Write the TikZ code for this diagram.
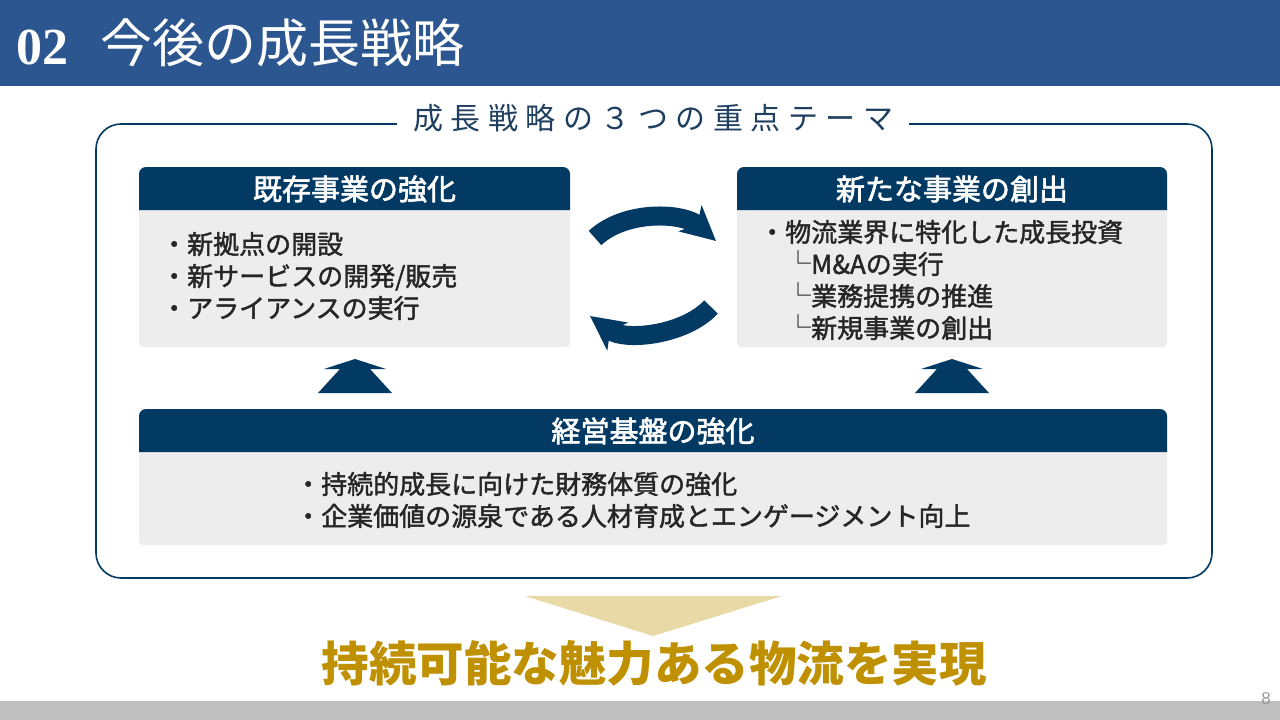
\documentclass[tikz,border=0pt]{standalone}
\usepackage{fontspec}
\setmainfont{Noto Sans CJK JP}
\newfontfamily\jpreg{Noto Sans CJK JP}
\newfontfamily\jpmed{Noto Sans CJK JP}[FakeBold=1.6]
\newfontfamily\jphdr{Noto Sans CJK JP}[FakeBold=2.2]
\newfontfamily\serifnum{Liberation Serif}
\newfontfamily\pagefont{Liberation Sans}
\usetikzlibrary{arrows.meta}
\definecolor{band}{HTML}{2B5690}
\definecolor{navy}{HTML}{033A63}
\definecolor{cardgrey}{HTML}{EDEDED}
\definecolor{bodytext}{HTML}{262626}
\definecolor{titletext}{HTML}{1F3F60}
\definecolor{gold}{HTML}{BF9000}
\definecolor{lightgold}{HTML}{E9D9A6}
\definecolor{footgrey}{HTML}{BFBFBF}
\tikzset{
  hdrtext/.style={text=white, font=\jphdr\fontsize{29}{34}\selectfont, inner sep=0pt},
  bodylines/.style={text=bodytext, font=\jpmed\fontsize{26}{32}\selectfont, align=left, inner sep=0pt, anchor=west},
  cyclearrow/.style={navy, line width=19pt, -{Stealth[length=34pt, width=34pt, inset=9pt]}},
  upchevron/.style={fill=navy},
}
\newcommand{\subl}{{\jpreg └}}
\begin{document}
\begin{tikzpicture}[x=1pt,y=-1pt]
\useasboundingbox (0,0) rectangle (1280,720);
\fill[white] (0,0) rectangle (1280,720);
% title band
\fill[band] (0,0) rectangle (1280,86);
\node[anchor=base west, text=white, inner sep=0pt, font=\serifnum\bfseries\fontsize{52}{60}\selectfont] (num) at (16,64) {02};
\node[anchor=base west, text=white, inner sep=0pt, font=\jpreg\fontsize{52}{60}\selectfont] (ttl) at (100,62) {今後の成長戦略};
% outer frame
\draw[navy, line width=1.6pt, rounded corners=25pt] (96,124) rectangle (1212,578);
\node[fill=white, inner xsep=16pt, inner ysep=2pt, text=titletext, font=\jpreg\addfontfeature{LetterSpace=25}\fontsize{30}{34}\selectfont] (theme) at (653,118) {成長戦略の３つの重点テーマ};
% left card
\fill[cardgrey, rounded corners=4pt] (139,200) rectangle (570,347);
\fill[navy] (139,210) [rounded corners=7pt] -- (139,167) -- (570,167) [sharp corners] -- (570,210) -- cycle;
\node[hdrtext] (h1) at (354.5,189) {既存事業の強化};
\node[bodylines] (b1) at (161,276) {・新拠点の開設\\・新サービスの開発/販売\\・アライアンスの実行};
% right card
\fill[cardgrey, rounded corners=4pt] (737,200) rectangle (1167,347);
\fill[navy] (737,210) [rounded corners=7pt] -- (737,167) -- (1167,167) [sharp corners] -- (1167,210) -- cycle;
\node[hdrtext] (h2) at (952,189) {新たな事業の創出};
\node[bodylines] (b2) at (759,280) {・物流業界に特化した成長投資\\　\subl M\&Aの実行\\　\subl 業務提携の推進\\　\subl 新規事業の創出};
% bottom card
\fill[cardgrey, rounded corners=4pt] (139,440) rectangle (1167,545);
\fill[navy] (139,452) [rounded corners=7pt] -- (139,409) -- (1167,409) [sharp corners] -- (1167,452) -- cycle;
\node[hdrtext] (h3) at (653,431) {経営基盤の強化};
\node[bodylines] (b3) at (295,500) {・持続的成長に向けた財務体質の強化\\・企業価値の源泉である人材育成とエンゲージメント向上};
% cycle arrows
\coordinate (a1s) at (595,238);
\coordinate (a1e) at (716,241);
\coordinate (a2s) at (711,307);
\coordinate (a2e) at (590,316);
\draw[cyclearrow] (a1s) .. controls (625,210) and (683,212) .. (a1e);
\draw[cyclearrow] (a2s) .. controls (685,335) and (625,342) .. (a2e);
% up chevrons
\foreach \cx/\nm in {355/upL, 952/upR}{
  \fill[upchevron] (\cx,359) -- (\cx+31,369) -- (\cx+15,369) -- (\cx+37,393) -- (\cx-37,393) -- (\cx-15,369) -- (\cx-31,369) -- cycle;
}
% result
\fill[lightgold] (525,596) -- (782,596) -- (653,636) -- cycle;
\node[text=gold, inner sep=0pt, font=\bfseries\fontsize{47.5}{52}\selectfont] (goal) at (654,663) {持続可能な魅力ある物流を実現};
% footer
\fill[footgrey] (0,701) rectangle (1280,720);
\node[anchor=base, text=black!40, inner sep=0pt, font=\pagefont\fontsize{17}{20}\selectfont] (pg) at (1266,704) {8};
\end{tikzpicture}
\end{document}
